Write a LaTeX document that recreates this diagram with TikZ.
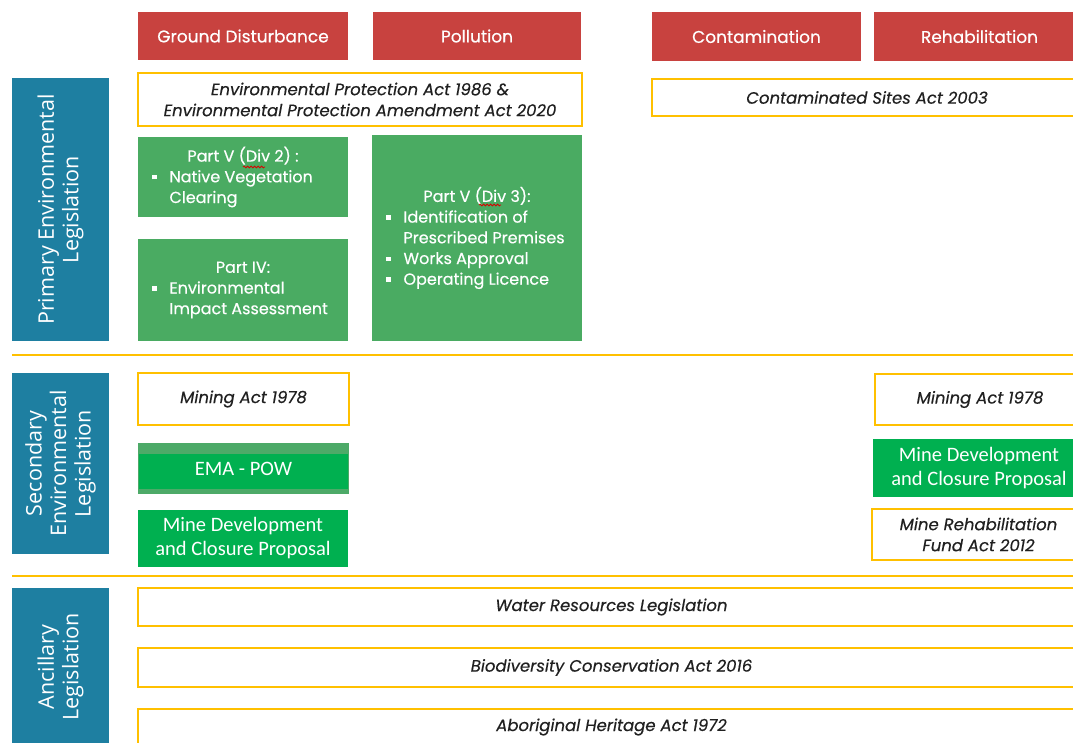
\documentclass[tikz,border=0pt]{standalone}
\usepackage{fontspec}
\setmainfont{Poppins}[FakeBold=0.4]
\newfontfamily\osans{Open Sans}
\newfontfamily\carl{Carlito}
\usetikzlibrary{decorations.pathmorphing}
\definecolor{hred}{HTML}{C8423F}
\definecolor{pgreen}{HTML}{4AAB62}
\definecolor{sgreen}{HTML}{00B050}
\definecolor{emalight}{HTML}{4DAA68}
\definecolor{lblue}{HTML}{1E7FA1}
\definecolor{gold}{HTML}{FFC000}
\definecolor{ink}{HTML}{202020}
\newcommand\sqb{\raisebox{3pt}{\rule{4.5pt}{4.5pt}}}
\newcommand\bul[1]{\makebox[210pt][l]{\hspace{14pt}\sqb\hspace{13pt}#1}}
\newcommand\cnt[1]{\makebox[210pt][l]{\hspace{31.5pt}#1}}
\newcommand\bx[7]{\node[#2, minimum width={#5-#3}, minimum height={#6-#4}] (#1) at ({(#3+#5)/2},{(#4+#6)/2}) {#7};}
\tikzset{
 base/.style={inner sep=0pt, outer sep=0pt, align=center},
 head/.style={base, fill=hred, text=white, font=\fontsize{17}{20}\selectfont},
 act/.style={base, fill=white, draw=gold, line width=1.8pt, text=ink, font=\fontsize{16.5}{21}\selectfont\itshape},
 pbox/.style={base, fill=pgreen, text=white, font=\fontsize{16}{20.7}\selectfont},
 sbox/.style={base, fill=sgreen, text=white, font=\carl\fontsize{20.5}{24}\selectfont},
 lbl/.style={base, fill=lblue, text=white, font=\osans\fontsize{21.5}{24.5}\selectfont, rotate=90},
 sepline/.style={draw=gold, line width=2.2pt},
 squig/.style={draw=red!85!black, line width=0.8pt, decorate, decoration={snake, amplitude=0.9pt, segment length=3.5pt}},
}
\begin{document}
\begin{tikzpicture}[x=1pt,y=-1pt]
\useasboundingbox (0,0) rectangle (1073,742);
\clip (0,0) rectangle (1073,742);
% headers
\bx{hGD}{head}{138}{12}{348}{60}{Ground Disturbance}
\bx{hPol}{head}{373}{12}{581}{60}{Pollution}
\bx{hCon}{head}{652}{12}{861}{61}{Contamination}
\bx{hReh}{head}{874}{12}{1085}{61}{Rehabilitation}
% primary
\node[lbl, minimum width=263, minimum height=97] (lblP) at (60.5,209.5) {Primary Environmental\\Legislation};
\bx{epa}{act}{138}{73}{582}{126}{Environmental Protection Act 1986 \&\\Environmental Protection Amendment Act 2020}
\bx{csa}{act}{652}{79}{1082}{116}{Contaminated Sites Act 2003}
\bx{pv2}{pbox}{138}{137}{348}{217}{Part V (Div 2) :\\\bul{Native Vegetation}\\\cnt{Clearing}}
\bx{piv}{pbox}{138}{239}{348}{341}{Part IV:\\\bul{Environmental}\\\cnt{Impact Assessment}}
\bx{pv3}{pbox}{373}{135}{581}{341}{Part V (Div 3):\\\bul{Identification of}\\\cnt{Prescribed Premises}\\\bul{Works Approval}\\\bul{Operating Licence}}
\coordinate (q2a) at (243,167); \coordinate (q2b) at (265,167);
\draw[squig] (q2a) -- (q2b);
\coordinate (q3a) at (479,205); \coordinate (q3b) at (501,205);
\draw[squig] (q3a) -- (q3b);
% separator 1
\coordinate (s1a) at (12,355); \coordinate (s1b) at (1085,355);
\draw[sepline] (s1a) -- (s1b);
% secondary
\node[lbl, minimum width=181, minimum height=97] (lblS) at (60.5,463.5) {Secondary\\Environmental\\Legislation};
\bx{ma1}{act}{138}{373}{349}{425}{Mining Act 1978}
\bx{ema}{sbox, fill=emalight, path picture={\fill[sgreen] ([xshift=1pt,yshift=-11pt]path picture bounding box.north west) rectangle ([xshift=-1pt,yshift=5pt]path picture bounding box.south east);}}{138}{443}{349}{494}{EMA - POW}
\bx{mdc1}{sbox}{138}{510}{348}{567}{Mine Development\\and Closure Proposal}
\bx{ma2}{act}{875}{374}{1085}{425}{Mining Act 1978}
\bx{mdc2}{sbox}{873}{439}{1085}{497}{Mine Development\\and Closure Proposal}
\bx{mrf}{act}{872}{509}{1085}{560}{Mine Rehabilitation\\Fund Act 2012}
% separator 2
\coordinate (s2a) at (12,576); \coordinate (s2b) at (1085,576);
\draw[sepline] (s2a) -- (s2b);
% ancillary
\node[lbl, minimum width=158, minimum height=97] (lblA) at (60.5,667) {Ancillary\\Legislation};
\bx{wr}{act}{138}{588}{1085}{626}{Water Resources Legislation}
\bx{bc}{act}{138}{648}{1085}{687}{Biodiversity Conservation Act 2016}
\bx{ah}{act}{138}{709}{1085}{745}{Aboriginal Heritage Act 1972}
\end{tikzpicture}
\end{document}
